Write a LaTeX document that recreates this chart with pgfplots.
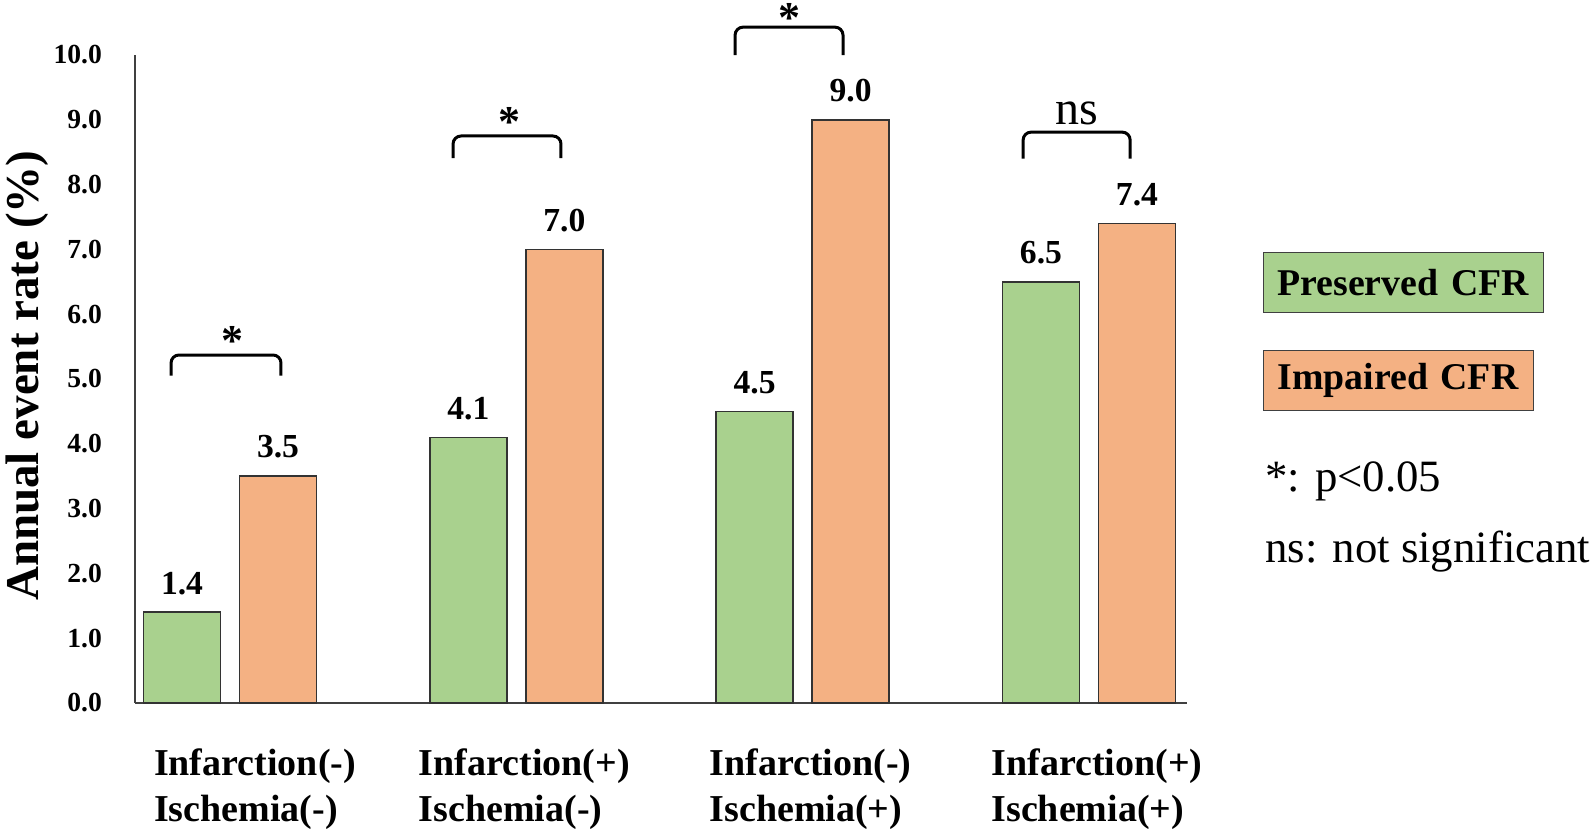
\documentclass[border=0pt]{standalone}
\usepackage{fontspec}
\setmainfont{Liberation Serif}
\usepackage{pgfplots}
\pgfplotsset{compat=1.18}
\definecolor{presgreen}{RGB}{169,209,142}
\definecolor{imporange}{RGB}{244,177,131}
\newcommand{\fs}[1]{\fontsize{#1}{1.16\dimexpr #1pt\relax}\selectfont}
\begin{document}
\begin{tikzpicture}
\begin{axis}[
    scale only axis,
    width=526pt, height=324pt,
    xmin=-0.332, xmax=3.342,
    ymin=0, ymax=10,
    ybar,
    bar width=38.5pt,
    xtick={0,1,2,3},
    xticklabels={{\hspace*{17pt}Infarction(-)\\\hspace*{17pt}Ischemia(-)},{Infarction(+)\\Ischemia(-)},{Infarction(-)\\Ischemia(+)},{Infarction(+)\\Ischemia(+)}},
    ytick={0,1,...,10},
    /pgf/number format/assume math mode=true,
    yticklabel={\pgfmathprintnumber[fixed,fixed zerofill,precision=1]{\tick}},
    axis x line*=bottom, axis y line*=left,
    axis line style={-, draw=black!75, line width=1pt},
    major tick length=0pt,
    yticklabel style={font=\bfseries\fs{13.8}, xshift=-13pt},
    xticklabel style={font=\bfseries\fontsize{19}{23.3}\selectfont, align=left, yshift=-19.3pt, xshift=4pt},
    ylabel={Annual event rate (\%)},
    ylabel style={font=\bfseries\fs{23.5}, at={(rel axis cs:-0.1024,0.505)}, anchor=center},
    nodes near coords={\pgfmathprintnumber[fixed,fixed zerofill,precision=1]{\pgfplotspointmeta}},
    nodes near coords style={font=\bfseries\fs{16.8}, anchor=south, inner sep=0pt, yshift=8.5pt, text=black},
    clip=false,
]
\addplot[fill=presgreen, draw=black!80, line width=0.75pt, bar shift=-24pt] coordinates {
(0,1.4) (1,4.1) (2,4.5) (3,6.5)
};
\addplot[fill=imporange, draw=black!80, line width=0.75pt, bar shift=24pt] coordinates {
(0,3.5) (1,7.0) (2,9.0) (3,7.4)
};
% significance brackets
\draw[line width=1.5pt, rounded corners=4pt] (axis cs:-0.206,5.05) -- (axis cs:-0.206,5.37) -- (axis cs:0.178,5.37) -- (axis cs:0.178,5.05);
\draw[line width=1.5pt, rounded corners=4pt] (axis cs:0.779,8.41) -- (axis cs:0.779,8.75) -- (axis cs:1.156,8.75) -- (axis cs:1.156,8.41);
\draw[line width=1.5pt, rounded corners=4pt] (axis cs:1.764,10.0) -- (axis cs:1.764,10.43) -- (axis cs:2.141,10.43) -- (axis cs:2.141,10.0);
\draw[line width=1.5pt, rounded corners=4pt] (axis cs:2.77,8.40) -- (axis cs:2.77,8.81) -- (axis cs:3.144,8.81) -- (axis cs:3.144,8.40);
\node[anchor=base, inner sep=0pt, font=\bfseries\fs{22}] at (axis cs:0.007,5.36) {*};
\node[anchor=base, inner sep=0pt, font=\bfseries\fs{22}] at (axis cs:0.977,8.74) {*};
\node[anchor=base, inner sep=0pt, font=\bfseries\fs{22}] at (axis cs:1.953,10.34) {*};
\node[anchor=base, inner sep=0pt, font=\fs{24}] at (axis cs:2.958,8.935) {ns};
% legend boxes and notes
\node[anchor=north west, fill=presgreen, draw=black!75, line width=0.5pt, minimum height=30pt, text width=126pt, inner xsep=7pt, align=left, font=\bfseries\fs{18.9}] at (axis cs:3.608,6.96) {Preserved CFR};
\node[anchor=north west, fill=imporange, draw=black!75, line width=0.5pt, minimum height=30pt, text width=121pt, inner xsep=7pt, align=left, font=\bfseries\fs{18.9}] at (axis cs:3.608,5.448) {Impaired CFR};
\node[anchor=west, inner sep=0pt, font=\fs{22.4}] at (axis cs:3.615,3.42) {*: p<0.05};
\node[anchor=west, inner sep=0pt, font=\fs{22.4}] at (axis cs:3.615,2.34) {ns: not significant};
\coordinate (bbsw) at (axis cs:-0.8034,-1.96);
\coordinate (bbne) at (axis cs:4.764,10.849);
\end{axis}
\pgfresetboundingbox
\useasboundingbox (bbsw) rectangle (bbne);
\end{tikzpicture}
\end{document}
